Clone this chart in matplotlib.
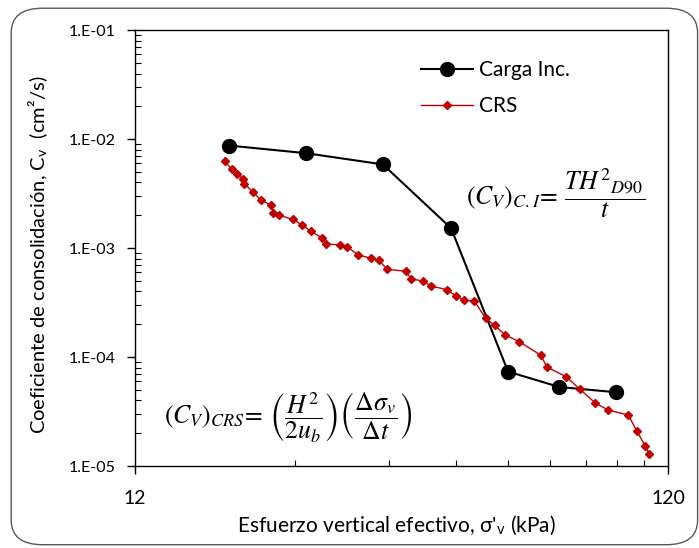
import matplotlib.pyplot as plt
from matplotlib.patches import FancyBboxPatch
from matplotlib.ticker import FixedLocator, FuncFormatter, NullFormatter
import numpy as np

plt.rcParams["font.family"] = ["Lato", "DejaVu Sans"]
plt.rcParams["mathtext.fontset"] = "stix"

# Carga incremental (consolidacion por incrementos)
ci_stress = [18.0, 25.1, 35.0, 47.0, 60.1, 75.0, 95.9]
ci_cv = [8.73e-3, 7.43e-3, 5.86e-3, 1.52e-3, 7.35e-5, 5.31e-5, 4.75e-5]

# CRS (tasa de deformacion constante)
crs_stress = [17.69, 18.21, 18.67, 19.14, 19.25, 19.97, 20.68, 21.61, 21.82, 22.33,
              23.74, 24.68, 25.69, 26.86, 27.43, 29.12, 29.98, 31.40, 33.27, 34.38,
              35.66, 38.65, 39.49, 41.59, 43.15, 46.16, 48.07, 49.77, 51.93, 54.59,
              56.74, 59.30, 63.10, 69.21, 71.09, 77.30, 81.90, 87.62, 92.65, 101.0,
              104.8, 108.7, 110.4]
crs_cv = [6.27e-3, 5.29e-3, 4.77e-3, 4.30e-3, 3.91e-3, 3.27e-3, 2.76e-3, 2.47e-3, 2.10e-3, 2.01e-3,
          1.83e-3, 1.63e-3, 1.42e-3, 1.25e-3, 1.09e-3, 1.07e-3, 1.03e-3, 8.72e-4, 8.04e-4, 7.75e-4,
          6.39e-4, 6.12e-4, 5.24e-4, 4.97e-4, 4.49e-4, 4.14e-4, 3.62e-4, 3.31e-4, 3.27e-4, 2.26e-4,
          1.95e-4, 1.60e-4, 1.38e-4, 1.04e-4, 8.09e-5, 6.58e-5, 5.08e-5, 3.78e-5, 3.26e-5, 2.94e-5,
          2.09e-5, 1.52e-5, 1.29e-5]

x_major = [12, 120]
x_minor = [24, 36, 48, 60, 72, 84, 96, 108]

fig = plt.figure(figsize=(6.99, 5.48), dpi=100)
ax = fig.add_axes([0.193, 0.1496, 0.763, 0.7954])

border = FancyBboxPatch((0.016, 0.006), 0.982, 0.979,
                        boxstyle="round,pad=0,rounding_size=0.045",
                        transform=fig.transFigure, ec="#595959", fc="none",
                        lw=1.0, zorder=0)
fig.patches.append(border)

ax.plot(ci_stress, ci_cv, color="black", lw=1.5, marker="o", markersize=10,
        label="Carga Inc.", zorder=3)
ax.plot(crs_stress, crs_cv, color="#C00000", lw=1.0, marker="D", markersize=4.5,
        label="CRS", zorder=4)

ax.set_xscale("log")
ax.set_yscale("log")
ax.set_xlim(12, 120)
ax.set_ylim(1e-5, 1e-1)

ax.xaxis.set_major_locator(FixedLocator(x_major))
ax.xaxis.set_minor_locator(FixedLocator(x_minor))
ax.xaxis.set_major_formatter(FuncFormatter(lambda v, p: f"{v:g}"))
ax.xaxis.set_minor_formatter(NullFormatter())

ax.yaxis.set_major_formatter(FuncFormatter(lambda v, p: f"1.E{int(round(np.log10(v))):+03d}"))
ax.yaxis.set_minor_formatter(NullFormatter())

ax.tick_params(which="major", direction="out", length=6, width=1.0, labelsize=11.5, pad=8)
ax.tick_params(which="minor", direction="in", length=4, width=0.8)
ax.tick_params(axis="x", which="major", pad=11, labelsize=14)
for s in ax.spines.values():
    s.set_linewidth(1.0)

ax.set_xlabel("Esfuerzo vertical efectivo, σ'$_\\mathregular{v}$ (kPa)", fontsize=15)
ax.set_ylabel("Coeficiente de consolidación, C$_\\mathregular{v}$  (cm²/s)", fontsize=14.5)
ax.xaxis.set_label_coords(0.49, -0.11)
ax.yaxis.set_label_coords(-0.16, 0.485)

ax.legend(loc="upper left", bbox_to_anchor=(0.52, 0.95), frameon=False, fontsize=15,
          handlelength=2.5, handletextpad=0.3, labelspacing=0.75, borderaxespad=0)

ax.text(0.62, 0.625, r"$(C_V)_{C.I}\!=\,\dfrac{TH^2{}_{D90}}{t}$", transform=ax.transAxes,
        fontsize=18.5, ha="left", va="center")
ax.text(0.055, 0.11, r"$(C_V)_{CRS}\!=\,\left(\dfrac{H^2}{2u_b}\right)\left(\dfrac{\Delta\sigma_v}{\Delta t}\right)$",
        transform=ax.transAxes, fontsize=18.5, ha="left", va="center")

fig.savefig("out.png", dpi=100)
